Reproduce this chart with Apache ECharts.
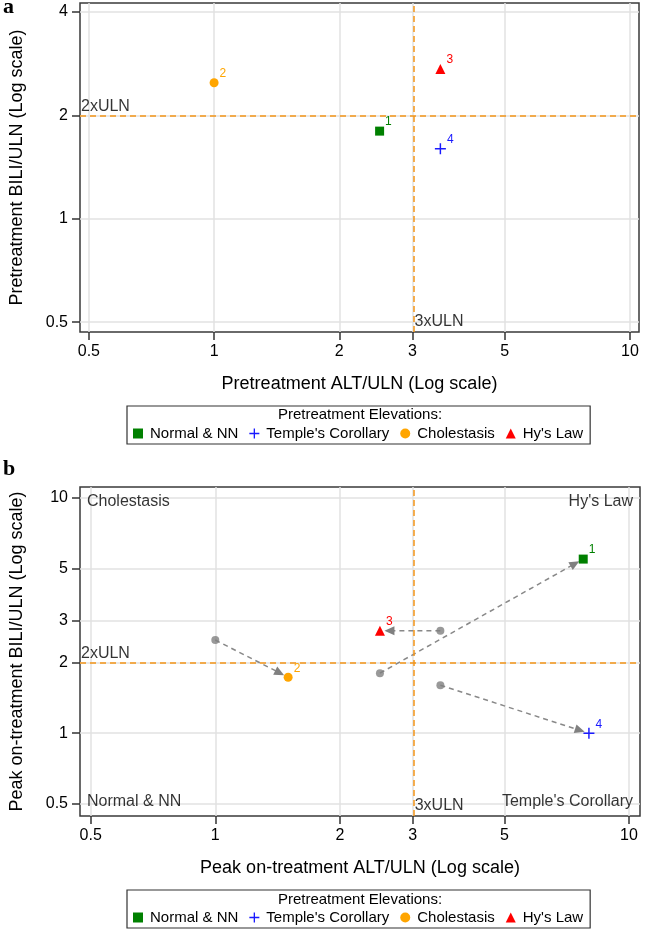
<!DOCTYPE html>
<html><head><meta charset="utf-8">
<script src="https://cdn.jsdelivr.net/npm/echarts@6/dist/echarts.min.js"></script>
<style>html,body{margin:0;padding:0;background:#fff}#c{width:645px;height:932px}</style>
</head><body><div id="c"></div>
<script>
// ---------------- data ----------------
const subjectIds = ['1', '2', '3', '4'];
const categories = ['Normal & NN', "Temple's Corollary", 'Cholestasis', "Hy's Law"];
const subjectCategory = ['Normal & NN', 'Cholestasis', "Hy's Law", "Temple's Corollary"];
const preALT = [2.5, 1.0, 3.5, 3.5];
const preBILI = [1.8, 2.49, 2.73, 1.6];
const peakALT = [7.75, 1.5, 2.5, 8.0];
const peakBILI = [5.5, 1.73, 2.73, 1.0];
const xTickValues = [0.5, 1, 2, 3, 5, 10];
const yTickValuesA = [0.5, 1, 2, 4];
const yTickValuesB = [0.5, 1, 2, 3, 5, 10];
const altLimit = 3;   // 3xULN
const biliLimit = 2;  // 2xULN
const xRangeA = [0.476, 10.51];
const yRangeA = [0.468, 4.25];
const xRangeB = [0.471, 10.63];
const yRangeB = [0.4446, 11.14];
const quadrantLabels = ['Cholestasis', "Hy's Law", 'Normal & NN', "Temple's Corollary"];

// ---------------- styles ----------------
const FONT = "'Liberation Sans', Arial, sans-serif";
const PLUS = 'path://M5.2,0H6.8V5.2H12V6.8H6.8V12H5.2V6.8H0V5.2H5.2Z';
const catStyle = {
  'Normal & NN': { symbol: 'rect', size: 9, color: '#008000' },
  "Temple's Corollary": { symbol: PLUS, size: 11, color: '#1a1aff' },
  'Cholestasis': { symbol: 'circle', size: 9, color: '#FFA500' },
  "Hy's Law": { symbol: 'triangle', size: 10, color: '#ff0000' }
};
const REF_COLOR = '#F39519';
const L = Math.log10;
const fmt = v => String(parseFloat(Math.pow(10, v).toPrecision(3)));

function xAxis(gi, range, name) {
  const cv = xTickValues.map(L);
  return {
    type: 'value', gridIndex: gi, min: L(range[0]), max: L(range[1]), position: 'bottom',
    name: name, nameLocation: 'middle', nameGap: 43,
    nameTextStyle: { fontSize: 18, color: '#000', fontFamily: FONT },
    axisLine: { show: false, onZero: false },
    axisTick: { show: true, length: 8, lineStyle: { color: '#333', width: 1.5 }, customValues: cv },
    axisLabel: { customValues: cv, formatter: fmt, fontSize: 16, color: '#000', margin: 12, fontFamily: FONT },
    splitLine: { show: true, lineStyle: { color: '#e2e2e2', width: 1.5 } }
  };
}
function yAxis(gi, range, ticks, name) {
  const cv = ticks.map(L);
  return {
    type: 'value', gridIndex: gi, min: L(range[0]), max: L(range[1]), position: 'left',
    name: name, nameLocation: 'middle', nameGap: 54,
    nameTextStyle: { fontSize: 18, color: '#000', fontFamily: FONT },
    axisLine: { show: false, onZero: false },
    axisTick: { show: true, length: 8, lineStyle: { color: '#333', width: 1.5 }, customValues: cv },
    axisLabel: { customValues: cv, formatter: fmt, fontSize: 16, color: '#000', margin: 12, fontFamily: FONT },
    splitLine: { show: true, lineStyle: { color: '#e2e2e2', width: 1.5 } }
  };
}

function pointSeries(gi, xs, ys) {
  return subjectIds.map((id, i) => {
    const st = catStyle[subjectCategory[i]];
    return {
      type: 'scatter', name: subjectCategory[i], xAxisIndex: gi, yAxisIndex: gi,
      symbol: st.symbol, symbolSize: st.size, z: 5,
      itemStyle: { color: st.color, opacity: 1 },
      label: { show: true, formatter: '{b}', position: 'right', distance: 1, offset: [0, -9],
        color: st.color, fontSize: 12, fontFamily: FONT },
      data: [{ name: id, value: [L(xs[i]), L(ys[i])] }]
    };
  });
}

function refSeries(gi, xr, yr, extra) {
  const lab = (text, pos) => ({ show: true, formatter: text, position: pos });
  const data = [
    { value: [L(xr[0]), L(biliLimit)], label: lab('2xULN', [1, -9]) },
    { value: [L(altLimit), L(yr[0])], label: lab('3xULN', [2, -10]) }
  ].concat(extra || []);
  return {
    type: 'scatter', name: 'ref' + gi, xAxisIndex: gi, yAxisIndex: gi,
    symbolSize: 0, silent: true, clip: false, z: 4,
    label: { show: true, color: '#000', fontSize: 16, fontFamily: FONT, align: 'left', verticalAlign: 'middle' },
    data: data,
    markLine: {
      silent: true, symbol: 'none', animation: false,
      label: { show: false },
      lineStyle: { color: REF_COLOR, type: [6, 4], width: 1.5 },
      data: [{ xAxis: L(altLimit) }, { yAxis: L(biliLimit) }]
    }
  };
}

const quadrantData = [
  { value: [L(xRangeB[0]), L(yRangeB[1])], label: { show: true, formatter: quadrantLabels[0], position: [7, 15], align: 'left' } },
  { value: [L(xRangeB[1]), L(yRangeB[1])], label: { show: true, formatter: quadrantLabels[1], position: [-7, 15], align: 'right' } },
  { value: [L(xRangeB[0]), L(yRangeB[0])], label: { show: true, formatter: quadrantLabels[2], position: [7, -14], align: 'left' } },
  { value: [L(xRangeB[1]), L(yRangeB[0])], label: { show: true, formatter: quadrantLabels[3], position: [-7, -14], align: 'right' } }
];

const arrowSeries = {
  type: 'custom', name: 'change', xAxisIndex: 1, yAxisIndex: 1, z: 2, silent: true,
  encode: { x: [0, 2], y: [1, 3] },
  data: subjectIds.map((id, i) => [L(preALT[i]), L(preBILI[i]), L(peakALT[i]), L(peakBILI[i])]),
  renderItem: function (params, api) {
    const p0 = api.coord([api.value(0), api.value(1)]);
    const p1 = api.coord([api.value(2), api.value(3)]);
    const dx = p1[0] - p0[0], dy = p1[1] - p0[1];
    const len = Math.hypot(dx, dy) || 1;
    const ux = dx / len, uy = dy / len;
    const back = 4.5, head = 10, half = 4.5;
    const tip = [p1[0] - ux * back, p1[1] - uy * back];
    const base = [tip[0] - ux * head, tip[1] - uy * head];
    return {
      type: 'group', children: [
        { type: 'line', shape: { x1: p0[0], y1: p0[1], x2: base[0] + ux * 2, y2: base[1] + uy * 2 },
          style: { stroke: '#888', lineWidth: 1.5, lineDash: [5, 4], fill: null } },
        { type: 'polygon', shape: { points: [tip, [base[0] - uy * half, base[1] + ux * half], [base[0] + uy * half, base[1] - ux * half]] },
          style: { fill: '#808080' } }
      ]
    };
  }
};

const startSeries = {
  type: 'scatter', name: 'pre', xAxisIndex: 1, yAxisIndex: 1, z: 3, silent: true,
  symbol: 'circle', symbolSize: 8, itemStyle: { color: '#808080' },
  data: subjectIds.map((id, i) => [L(preALT[i]), L(preBILI[i])])
};

function legend(top) {
  return {
    data: categories, left: 127, top: top, orient: 'horizontal',
    itemWidth: 10, itemHeight: 10, itemGap: 11,
    padding: [20, 7, 3, 6], borderColor: '#333', borderWidth: 1.2,
    textStyle: { fontSize: 15, color: '#000', fontFamily: FONT, padding: [0, 0, 0, 2] }
  };
}

const option = {
  animation: false,
  textStyle: { fontFamily: FONT },
  grid: [
    { left: 76, top: 3, width: 563, height: 329, show: true, borderColor: '#3a3a3a', borderWidth: 1.5, backgroundColor: 'transparent' },
    { left: 76, top: 487, width: 564, height: 329, show: true, borderColor: '#3a3a3a', borderWidth: 1.5, backgroundColor: 'transparent' }
  ],
  xAxis: [
    xAxis(0, xRangeA, 'Pretreatment ALT/ULN (Log scale)'),
    xAxis(1, xRangeB, 'Peak on-treatment ALT/ULN (Log scale)')
  ],
  yAxis: [
    yAxis(0, yRangeA, yTickValuesA, 'Pretreatment BILI/ULN (Log scale)'),
    yAxis(1, yRangeB, yTickValuesB, 'Peak on-treatment BILI/ULN (Log scale)')
  ],
  legend: [legend(406), legend(890)],
  graphic: [
    { type: 'text', x: 3, y: 7, style: { text: 'a', font: "bold 22px 'Liberation Serif', 'Times New Roman', serif", fill: '#000', verticalAlign: 'middle' } },
    { type: 'text', x: 3, y: 469, style: { text: 'b', font: "bold 22px 'Liberation Serif', 'Times New Roman', serif", fill: '#000', verticalAlign: 'middle' } },
    { type: 'text', x: 360, y: 415, style: { text: 'Pretreatment Elevations:', font: "15px " + FONT, fill: '#000', align: 'center', verticalAlign: 'middle' } },
    { type: 'text', x: 360, y: 900, style: { text: 'Pretreatment Elevations:', font: "15px " + FONT, fill: '#000', align: 'center', verticalAlign: 'middle' } }
  ],
  series: [].concat(
    [refSeries(0, xRangeA, yRangeA)],
    pointSeries(0, preALT, preBILI),
    [refSeries(1, xRangeB, yRangeB, quadrantData), arrowSeries, startSeries],
    pointSeries(1, peakALT, peakBILI)
  )
};

const chart = echarts.init(document.getElementById('c'), null, { renderer: 'canvas' });
chart.setOption(option);
</script>
</body></html>
